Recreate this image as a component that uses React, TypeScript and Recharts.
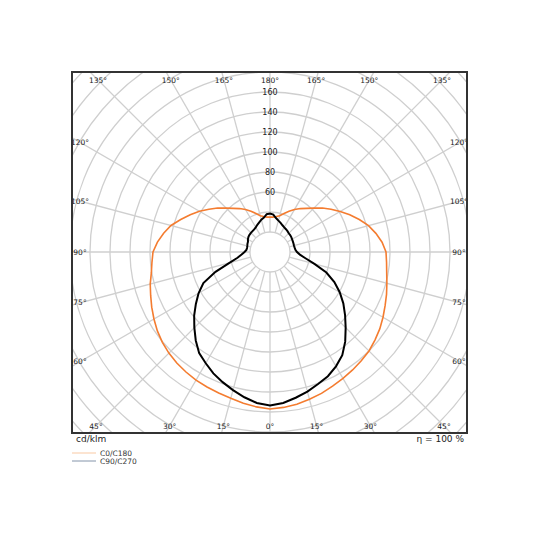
import React from 'react';
import { RadarChart, Radar, PolarGrid, PolarAngleAxis, PolarRadiusAxis } from 'recharts';

// gamma angles (deg from nadir), one value per 5 degrees, 0..180
const GAMMA = [
  0, 5, 10, 15, 20, 25, 30, 35, 40, 45, 50, 55, 60, 65, 70, 75, 80, 85, 90,
  95, 100, 105, 110, 115, 120, 125, 130, 135, 140, 145, 150, 155, 160, 165, 170, 175, 180,
];

// cd/klm
const C0 = [
  157, 156, 154.5, 152.5, 150.5, 148, 146, 144, 142, 140, 137, 134, 130.5, 127, 124, 121, 118.5, 117, 116,
  112.5, 107.5, 102, 95, 88, 81, 74.5, 68.5, 62, 57, 53, 49, 45, 41, 37.5, 36, 35, 35,
];
const C180 = [
  157, 155.5, 153.5, 151.5, 150, 149, 148, 146.5, 145, 143, 140.5, 137.5, 134, 130.5, 127, 124, 120.5, 118.5, 117,
  113, 108, 102.5, 95, 88, 81.5, 74.5, 68.5, 62, 57, 53, 49, 45, 41, 37.5, 36, 35, 35,
];
const C90 = [
  153.5, 151.5, 148, 144.5, 140.5, 137, 132, 126, 117, 107, 98, 89.5, 80.5, 71, 60, 46, 36, 30, 27,
  25.5, 25, 24.8, 25, 25.2, 25.5, 26, 26.3, 26.5, 27.2, 27.8, 28.5, 29.5, 31, 32.5, 34.5, 37.5, 38.5,
];
const C270 = [
  153.5, 151.5, 147.5, 143, 138.5, 134, 128.5, 123.5, 115.5, 107, 99, 90.5, 82.5, 73.5, 58, 42, 33, 28.5, 25.5,
  23.7, 23.3, 23.5, 24, 24.3, 25.5, 26.3, 26.8, 27, 27.2, 27.6, 28.5, 30, 31.5, 33.5, 35, 38, 38.5,
];

const RADIUS_TICKS = [20, 40, 60, 80, 100, 120, 140, 160, 180, 200, 220, 240, 260, 280];
const RADIUS_LABELS = [60, 80, 100, 120, 140, 160];
const ANGLE_TICKS = [0, 15, 30, 45, 60, 75, 90, 105, 120, 135, 150, 165, 180, 195, 210, 225, 240, 255, 270, 285, 300, 315, 330, 345];

const ORANGE = '#f47c30';
const FONT = '"DejaVu Sans", Verdana, sans-serif';

// direction runs counter-clockwise from nadir: 0..180 is the right half, 185..355 the left half
const table: { dir: number; c0c180: number; c90c270: number }[] = [];
for (let d = 0; d < 360; d += 5) {
  const right = d <= 180;
  const k = GAMMA.indexOf(right ? d : 360 - d);
  table.push({
    dir: d,
    c0c180: right ? C0[k] : C180[k],
    c90c270: right ? C90[k] : C270[k],
  });
}

const SIZE = 580;
const C = SIZE / 2;
// label frame, distances from the centre
const LBL = { left: 190, right: 189, top: 172, bottom: 174 };

function AngleTick(props: any) {
  const d = Number(props.payload?.value);
  if (!ANGLE_TICKS.includes(d)) return <g />;
  const a = ((d - 90) * Math.PI) / 180;
  const ux = Math.cos(a);
  const uy = -Math.sin(a);
  let t = Infinity;
  if (ux > 1e-6) t = Math.min(t, LBL.right / ux);
  if (ux < -1e-6) t = Math.min(t, LBL.left / -ux);
  if (uy > 1e-6) t = Math.min(t, LBL.bottom / uy);
  if (uy < -1e-6) t = Math.min(t, LBL.top / -uy);
  const g = d <= 180 ? d : 360 - d;
  return (
    <text
      x={C + t * ux}
      y={C + t * uy}
      textAnchor="middle"
      dominantBaseline="central"
      fontSize={7.5}
      fill="#222"
      fontFamily={FONT}
    >
      {g}°
    </text>
  );
}

function RadiusTick(props: any) {
  const v = Number(props.payload?.value);
  if (!RADIUS_LABELS.includes(v)) return <g />;
  return (
    <text
      x={props.x}
      y={props.y}
      textAnchor="middle"
      dominantBaseline="central"
      fontSize={8}
      fill="#222"
      fontFamily={FONT}
    >
      {v}
    </text>
  );
}

export default function App() {
  return (
    <div style={{ position: 'absolute', left: 0, top: 0, width: 540, height: 540, background: '#fff', fontFamily: FONT }}>
      <div
        style={{
          position: 'absolute',
          left: 71,
          top: 71,
          width: 397,
          height: 363,
          boxSizing: 'border-box',
          border: '2px solid #333',
          overflow: 'hidden',
        }}
      >
        <div style={{ position: 'absolute', left: -93, top: -111 }}>
          <RadarChart
            width={SIZE}
            height={SIZE}
            data={table}
            cx={C}
            cy={C}
            innerRadius={20}
            outerRadius={280}
            startAngle={-90}
            endAngle={270}
            margin={{ top: 0, right: 0, bottom: 0, left: 0 }}
          >
            <PolarGrid gridType="circle" stroke="#cfcfcf" strokeWidth={1.3} />
            <PolarAngleAxis
              dataKey="dir"
              type="number"
              domain={[0, 360]}
              ticks={ANGLE_TICKS}
              axisLine={false}
              tickLine={false}
              tick={<AngleTick />}
            />
            <PolarRadiusAxis
              type="number"
              angle={90}
              domain={[20, 280]}
              ticks={RADIUS_TICKS}
              axisLine={false}
              tickLine={false}
              tick={<RadiusTick />}
            />
            <Radar
              name="C0/C180"
              dataKey="c0c180"
              stroke={ORANGE}
              strokeWidth={1.6}
              fill="none"
              fillOpacity={0}
              dot={false}
              isAnimationActive={false}
            />
            <Radar
              name="C90/C270"
              dataKey="c90c270"
              stroke="#000"
              strokeWidth={2}
              fill="none"
              fillOpacity={0}
              dot={false}
              isAnimationActive={false}
            />
          </RadarChart>
        </div>
      </div>
      <div style={{ position: 'absolute', left: 76, top: 433, fontSize: 9, color: '#222', lineHeight: '12px' }}>cd/klm</div>
      <div style={{ position: 'absolute', right: 540 - 464, top: 433, fontSize: 9, color: '#222', lineHeight: '12px' }}>
        η = 100 %
      </div>
      <svg style={{ position: 'absolute', left: 70, top: 446 }} width={120} height={22}>
        <line x1={2} y1={7} x2={26} y2={7} stroke="#f9c9a3" strokeWidth={1} />
        <text x={30} y={7} dominantBaseline="central" fontSize={7.5} fill="#333" fontFamily={FONT}>
          C0/C180
        </text>
        <line x1={2} y1={15} x2={26} y2={15} stroke="#8494aa" strokeWidth={1} />
        <text x={30} y={15} dominantBaseline="central" fontSize={7.5} fill="#333" fontFamily={FONT}>
          C90/C270
        </text>
      </svg>
    </div>
  );
}
